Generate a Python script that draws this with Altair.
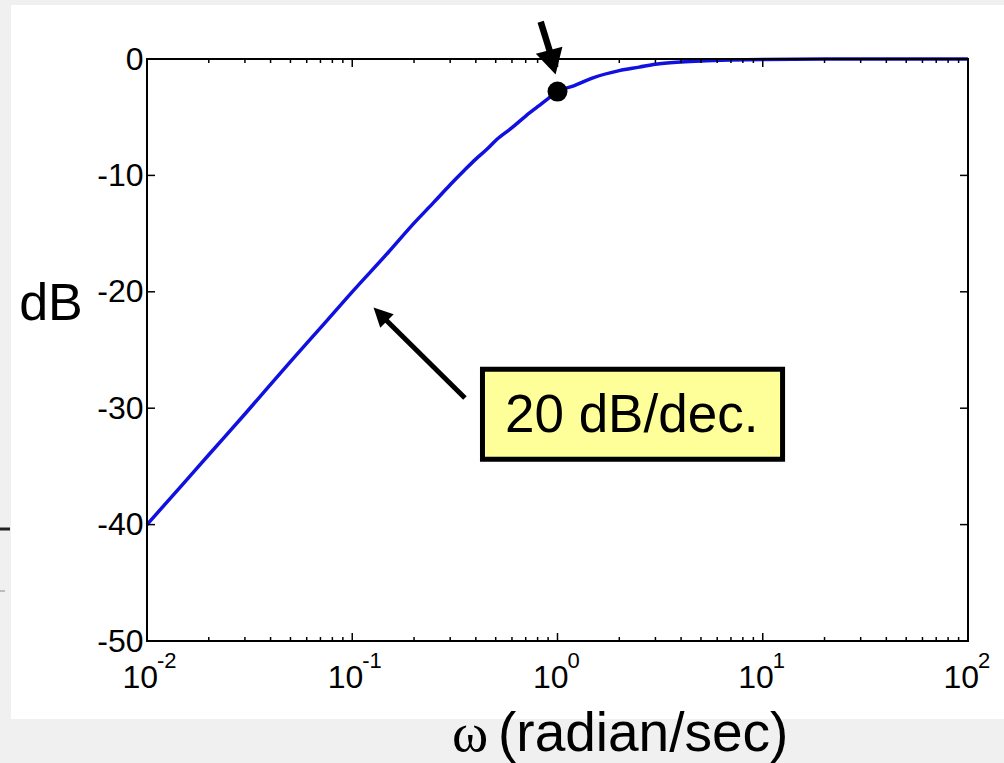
import altair as alt
import pandas as pd

# ---- data ----
omega = [0.01, 0.015, 0.02, 0.03, 0.05, 0.07, 0.1, 0.15, 0.2, 0.25, 0.3, 0.35,
         0.4, 0.45, 0.5, 0.6, 0.7, 0.8, 0.9, 1.0, 1.2, 1.5, 2.0, 2.5, 3.0, 4.0,
         5.0, 7.0, 10.0, 20.0, 50.0, 100.0]
mag_db = [-40.0, -36.5, -34.0, -30.5, -26.0, -23.1, -20.0, -16.6, -14.1,
          -12.3, -10.8, -9.6, -8.6, -7.8, -7.0, -5.9, -4.9, -4.1, -3.4, -2.8,
          -2.3, -1.6, -1.0, -0.7, -0.45, -0.26, -0.17, -0.09, -0.04, -0.01,
          0.0, 0.0]

marker_w = [1.0]
marker_db = [-2.8]

y_ticks = [0, -10, -20, -30, -40, -50]
decades = [0.01, 0.1, 1, 10, 100]
exponents = ["-2", "-1", "0", "1", "2"]
inner_decades = [0.1, 1, 10]
minor_ticks = [m * d for d in [0.01, 0.1, 1, 10] for m in range(2, 10)]

# annotation anchors (data units)
box_w = [0.431, 12.49]
box_db = [-26.65, -34.38]
box_text = "20 dB/dec."
box_text_pos = (2.298, -32.02)

low_arrow_tail = (0.354, -29.12)
low_arrow_base = (0.1468, -22.47)
low_arrow_head = (0.1369, -21.93)
top_arrow_tail = (0.828, 3.2)
top_arrow_base = (0.916, 0.70)
top_arrow_head = (0.944, -0.29)

W, H = 821, 582
FONT = "Liberation Sans"

x_scale = alt.Scale(type="log", domain=[0.01, 100], nice=False)
y_scale = alt.Scale(domain=[-50, 0], nice=False)
y_axis = alt.Axis(values=y_ticks, labelExpr="'' + datum.value", ticks=False,
                  domain=False, grid=False, labelFontSize=32, labelFont=FONT,
                  labelColor="black", labelPadding=4, title=None, zindex=2)


def X(f="w", **kw):
    return alt.X(f + ":Q", scale=x_scale, axis=None, **kw)


def Y(f="db"):
    return alt.Y(f + ":Q", scale=y_scale, axis=y_axis)


one = pd.DataFrame({"a": [0]})

panel = alt.Chart(one).mark_rect(fill="white").encode(
    x=alt.value(-136), x2=alt.value(857), y=alt.value(-54), y2=alt.value(660))

stray1 = alt.Chart(one).mark_rule(color="#222222", strokeWidth=3).encode(
    x=alt.value(-147), x2=alt.value(-137), y=alt.value(470))
stray2 = alt.Chart(one).mark_rule(color="#888888", strokeWidth=1).encode(
    x=alt.value(-147), x2=alt.value(-142), y=alt.value(532))

curve_df = pd.DataFrame({"w": omega, "db": mag_db})
curve = alt.Chart(curve_df).mark_line(
    color="#1010e0", strokeWidth=3.5, interpolate="monotone").encode(x=X(), y=Y())

# ticks
yt = pd.DataFrame({"db": y_ticks})
ytick_l = alt.Chart(yt).mark_rule(color="black", strokeWidth=1.5).encode(
    y=Y(), x=alt.value(0), x2=alt.value(8))
ytick_r = alt.Chart(yt).mark_rule(color="black", strokeWidth=1.5).encode(
    y=Y(), x=alt.value(W - 8), x2=alt.value(W))
mt = pd.DataFrame({"w": minor_ticks})
xminor_b = alt.Chart(mt).mark_rule(color="black", strokeWidth=1.5).encode(
    x=X(), y=alt.value(H), y2=alt.value(H - 4))
xminor_t = alt.Chart(mt).mark_rule(color="black", strokeWidth=1.5).encode(
    x=X(), y=alt.value(0), y2=alt.value(4))
Mt = pd.DataFrame({"w": inner_decades})
xmajor_b = alt.Chart(Mt).mark_rule(color="black", strokeWidth=1.5).encode(
    x=X(), y=alt.value(H), y2=alt.value(H - 8))
xmajor_t = alt.Chart(Mt).mark_rule(color="black", strokeWidth=1.5).encode(
    x=X(), y=alt.value(0), y2=alt.value(8))

frame = alt.Chart(one).mark_rect(fill="transparent", stroke="black", strokeWidth=2).encode(
    x=alt.value(0), x2=alt.value(W), y=alt.value(0), y2=alt.value(H))

# x tick labels with superscripts
lab_df = pd.DataFrame({"w": decades, "e": exponents})
lab10 = alt.Chart(lab_df).mark_text(
    text="10", font=FONT, fontSize=32, align="right", baseline="alphabetic",
    dx=11, color="black").encode(x=X(), y=alt.value(629))
labexp = alt.Chart(lab_df).mark_text(
    font=FONT, fontSize=22, align="left", baseline="alphabetic",
    dx=10, color="black").encode(x=X(), y=alt.value(609), text="e:N")

# axis titles
ylab = alt.Chart(one).mark_text(
    text="dB", font=FONT, fontSize=52, align="center", baseline="alphabetic",
    color="black").encode(x=alt.value(-96), y=alt.value(261))
xlab_omega = alt.Chart(one).mark_text(
    text="ω", font="Liberation Serif", fontSize=55, align="left",
    baseline="alphabetic", color="black").encode(x=alt.value(305), y=alt.value(692))
xlab_rest = alt.Chart(one).mark_text(
    text="(radian/sec)", font=FONT, fontSize=55, align="left",
    baseline="alphabetic", color="black").encode(x=alt.value(351), y=alt.value(692))

# marker dot
dot = alt.Chart(pd.DataFrame({"w": marker_w, "db": marker_db})).mark_circle(
    size=400, color="black", opacity=1).encode(x=X(), y=Y())

# arrows
low_shaft = alt.Chart(pd.DataFrame({
    "w": [low_arrow_tail[0]], "db": [low_arrow_tail[1]],
    "w2": [low_arrow_base[0]], "db2": [low_arrow_base[1]]})).mark_rule(
    color="black", strokeWidth=5).encode(
    x=X(), y=Y(), x2="w2:Q", y2="db2:Q")
low_head = alt.Chart(pd.DataFrame({
    "w": [low_arrow_head[0]], "db": [low_arrow_head[1]]})).mark_point(
    shape="M0,-1L1,1L-1,1Z", filled=True, color="black", opacity=1,
    size=361, angle=315).encode(x=X(), y=Y())

top_shaft = alt.Chart(pd.DataFrame({
    "w": [top_arrow_tail[0]], "db": [top_arrow_tail[1]],
    "w2": [top_arrow_base[0]], "db2": [top_arrow_base[1]]})).mark_rule(
    color="black", strokeWidth=6.5).encode(
    x=X(), y=Y(), x2="w2:Q", y2="db2:Q")
top_head = alt.Chart(pd.DataFrame({
    "w": [top_arrow_head[0]], "db": [top_arrow_head[1]]})).mark_point(
    shape="M0,-1L1.1,1L-1.1,1Z", filled=True, color="black", opacity=1,
    size=625, angle=165).encode(x=X(), y=Y())

# annotation box
box = alt.Chart(pd.DataFrame({
    "w": [box_w[0]], "w2": [box_w[1]], "db": [box_db[0]], "db2": [box_db[1]]})).mark_rect(
    fill="#ffff99", stroke="black", strokeWidth=5).encode(
    x=X(), x2="w2:Q", y=Y(), y2="db2:Q")
box_label = alt.Chart(pd.DataFrame({
    "w": [box_text_pos[0]], "db": [box_text_pos[1]]})).mark_text(
    text=box_text, font=FONT, fontSize=53, align="center", baseline="alphabetic",
    color="black").encode(x=X(), y=Y())

chart = alt.layer(
    panel, stray1, stray2, curve, ytick_l, ytick_r, xminor_b, xminor_t,
    xmajor_b, xmajor_t, frame, lab10, labexp, ylab, xlab_omega, xlab_rest,
    dot, low_shaft, low_head, top_shaft, top_head, box, box_label
).properties(
    width=W, height=H,
    autosize=alt.AutoSizeParams(type="none"),
    padding={"left": 147, "top": 59, "right": 36, "bottom": 122},
    background="#f0f0f0",
).configure_view(strokeWidth=0)

chart.save("out.html", embed_options={"renderer": "svg", "actions": False})
